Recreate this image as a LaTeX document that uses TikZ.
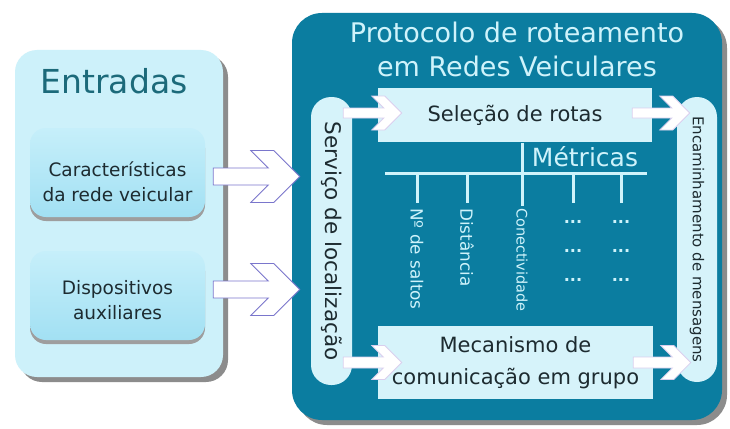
\documentclass[tikz,border=0pt]{standalone}
\usepackage{fontspec}
\setmainfont{DejaVu Sans}
\usetikzlibrary{calc,shadows}
\definecolor{protblue}{HTML}{0B7DA0}
\definecolor{paleblue}{HTML}{D6F3FA}
\definecolor{entbg}{HTML}{CDF1FA}
\definecolor{boxtop}{HTML}{C6EFFA}
\definecolor{boxbot}{HTML}{A2E0F3}
\definecolor{titleteal}{HTML}{1C6A7A}
\definecolor{ink}{HTML}{1D2B30}
\definecolor{metricink}{HTML}{CFF3FB}
\definecolor{arrowline}{HTML}{7A76CC}
\definecolor{arrowsoft}{HTML}{D9CFEE}
\newcommand{\fsz}[2]{\fontsize{#1}{#2}\selectfont}
\newcommand{\chevarrow}[6][]{%
  \draw[#1] let \p1=(#2), \p2=(#3) in
    (\x1,\y1+#4pt) -- (\x2-#6pt-#4pt,\y1+#4pt) -- (\x2-#5pt-#6pt,\y1+#5pt)
    -- (\x2-#5pt,\y1+#5pt) -- (\x2,\y1) -- (\x2-#5pt,\y1-#5pt)
    -- (\x2-#5pt-#6pt,\y1-#5pt) -- (\x2-#6pt-#4pt,\y1-#4pt) -- (\x1,\y1-#4pt) -- cycle;}
\begin{document}
\begin{tikzpicture}[x=1pt,y=-1pt,every node/.style={inner sep=0pt},
  inbox/.style={rounded corners=16pt,top color=boxtop,bottom color=boxbot,minimum width=175pt,minimum height=89pt,
    drop shadow={shadow xshift=0pt,shadow yshift=-4pt,fill=black!38,opacity=1}},
  intext/.style={align=center,text=ink,font=\fsz{18.5}{25}},
  pill/.style={fill=paleblue,rounded corners=20pt,rotate=-90,text=ink},
  panel/.style={fill=paleblue,text=ink,font=\fsz{21}{32},align=center},
  metric/.style={draw=metricink,line width=3pt},
  mlabel/.style={rotate=-90,anchor=west,text=metricink,font=\fsz{16.8}{17}},
  dots/.style={text=metricink,font=\bfseries\fsz{16}{16}},
  bigarrow/.style={fill=white,draw=arrowline,line width=0.8pt},
  smallarrow/.style={fill=white,draw=arrowsoft,line width=0.8pt}]
\useasboundingbox[fill=white] (0,0) rectangle (730,428);
\node[fill=entbg,rounded corners=22pt,minimum width=208pt,minimum height=327pt,
  drop shadow={shadow xshift=5pt,shadow yshift=-5pt,fill=black!45,opacity=1}] (ent) at (119,213.5) {};
\node[anchor=base,text=titleteal,font=\fsz{33}{33}] (enttitle) at (114,93) {Entradas};
\node[inbox] (car) at (117.5,172.5) {};
\node[intext] (cartext) at (117.5,182) {Características\\da rede veicular};
\node[inbox] (dis) at (117.5,295.5) {};
\node[intext] (distext) at (117.5,300) {Dispositivos\\auxiliares};

\node[fill=protblue,rounded corners=30pt,minimum width=430pt,minimum height=407pt,
  drop shadow={shadow xshift=5pt,shadow yshift=-5pt,fill=black!45,opacity=1}] (prot) at (507,216.5) {};
\node[anchor=base,text=metricink,font=\fsz{27}{27}] (ptitle1) at (517,42) {Protocolo de roteamento};
\node[anchor=base,text=metricink,font=\fsz{27}{27}] (ptitle2) at (517,77) {em Redes Veiculares};
\node[pill,minimum width=288pt,minimum height=41pt,font=\fsz{21.5}{22}] (serv) at (331.5,241) {Serviço de localização};
\node[pill,minimum width=285pt,minimum height=40pt,font=\fsz{15}{15}] (enc) at (697,239.5) {Encaminhamento de mensagens};
\node[panel,minimum width=274pt,minimum height=54pt] (sel) at (515,115) {Seleção de rotas};
\node[panel,minimum width=275pt,minimum height=73pt] (mec) at (515.5,362.5) {Mecanismo de\\comunicação em grupo};

\coordinate (bar) at (385,173);
\coordinate (barend) at (647,173);
\coordinate (tick) at (385,203);
\coordinate (mtop) at (522,143);
\node[anchor=base,text=metricink,font=\fsz{25}{25}] (metr) at (585,166) {Métricas};
\node[mlabel] (nsalt) at (417,208) {Nº de saltos};
\node[mlabel] (dist) at (467,208) {Distância};
\node[mlabel,font=\fsz{14.5}{15}] (conn) at (522,208) {Conectividade};
\foreach \i/\y in {1/222,2/251,3/280} {
  \node[dots] (dotsa\i) at (573,\y) {...};
  \node[dots] (dotsb\i) at (621,\y) {...};
}
\draw[metric] (bar) -- (barend);
\draw[metric] (mtop) -- ([yshift=2pt]conn.west);
\foreach \n in {nsalt,dist,dotsa1,dotsb1} \draw[metric] (\n |- bar) -- (\n |- tick);

\chevarrow[bigarrow]{$(car.east)+(8,4)$}{$(serv.south)+(-11,0)$}{8.5}{26}{23}
\chevarrow[bigarrow]{$(dis.east)+(8,-6)$}{$(serv.south)+(-11,0)$}{8.5}{26}{23}
\chevarrow[smallarrow]{$(serv.north |- sel.west)+(-9,-2)$}{$(sel.west)+(24,0)$}{5}{17}{13}
\chevarrow[smallarrow]{$(serv.north |- mec.west)+(-9,0)$}{$(mec.west)+(24,0)$}{5.5}{17}{13}
\chevarrow[smallarrow]{$(sel.east)+(-20,-2)$}{$(enc.south)+(13,0)$}{5}{17}{13}
\chevarrow[smallarrow]{$(mec.east)+(-20,0)$}{$(enc.south)+(14,0)$}{5.5}{17}{13}
\end{tikzpicture}
\end{document}
